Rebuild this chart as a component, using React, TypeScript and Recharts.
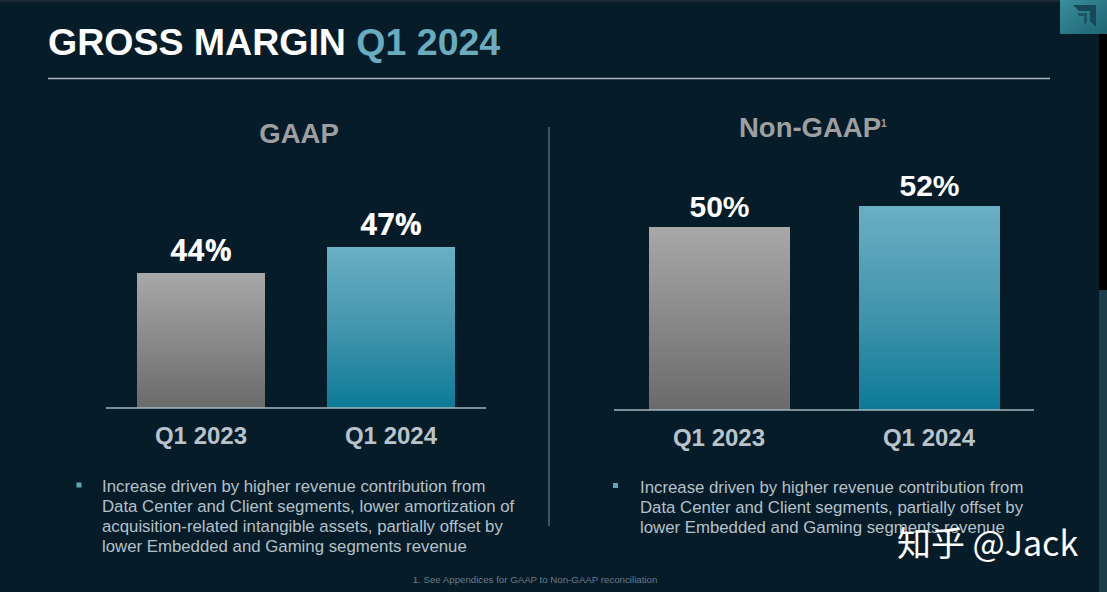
import React from 'react';
import { BarChart, Bar, XAxis, YAxis, Cell, LabelList } from 'recharts';

const categories = ['Q1 2023', 'Q1 2024'];
const gaapValues = [44, 47];
const nonGaapValues = [50, 52];
const titleMain = 'GROSS MARGIN';
const titleAccent = 'Q1 2024';
const gaapHeading = 'GAAP';
const nonGaapHeading = 'Non-GAAP';
const gaapBullet = [
  'Increase driven by higher revenue contribution from',
  'Data Center and Client segments, lower amortization of',
  'acquisition-related intangible assets, partially offset by',
  'lower Embedded and Gaming segments revenue',
];
const nonGaapBullet = [
  'Increase driven by higher revenue contribution from',
  'Data Center and Client segments, partially offset by',
  'lower Embedded and Gaming segments revenue',
];
const footnote = '1. See Appendices for GAAP to Non-GAAP reconciliation';
const watermark = '知乎 @Jack';

const gaapData = categories.map((q, i) => ({ q, v: gaapValues[i] }));
const nonGaapData = categories.map((q, i) => ({ q, v: nonGaapValues[i] }));

const SANS = '"Liberation Sans", Arial, sans-serif';

type ChartProps = {
  data: { q: string; v: number }[];
  id: string;
  left: number;
  top: number;
  width: number;
  height: number;
  domain: [number, number];
  barSize: number;
  labelFont: string;
  labelOffset: number;
};

function MarginChart({ data, id, left, top, width, height, domain, barSize, labelFont, labelOffset }: ChartProps) {
  return (
    <div style={{ position: 'absolute', left, top }}>
      <BarChart width={width} height={height} data={data} margin={{ top: 20, right: 20, left: 20, bottom: 12 }}>
        <defs>
          <linearGradient id={`${id}-gray`} x1="0" y1="0" x2="0" y2="1">
            <stop offset="0%" stopColor="#a8a8a8" />
            <stop offset="100%" stopColor="#6a6a6a" />
          </linearGradient>
          <linearGradient id={`${id}-blue`} x1="0" y1="0" x2="0" y2="1">
            <stop offset="0%" stopColor="#6aafc4" />
            <stop offset="55%" stopColor="#3f93ab" />
            <stop offset="100%" stopColor="#0c7a97" />
          </linearGradient>
        </defs>
        <XAxis
          dataKey="q"
          height={40}
          interval={0}
          tickSize={0}
          tickMargin={19}
          tickLine={false}
          axisLine={{ stroke: '#a6b7c0', strokeWidth: 1.5 }}
          tick={{ fill: '#b8c3ca', fontSize: 24, fontWeight: 700, fontFamily: SANS }}
        />
        <YAxis hide type="number" domain={domain} allowDataOverflow />
        <Bar dataKey="v" barSize={barSize} isAnimationActive={false}>
          {data.map((d, i) => (
            <Cell key={d.q} fill={`url(#${id}-${i === 0 ? 'gray' : 'blue'})`} />
          ))}
          <LabelList
            dataKey="v"
            position="top"
            offset={labelOffset}
            formatter={(v: any) => `${v}%`}
            fill="#ffffff"
            fontSize={30}
            fontWeight={700}
            fontFamily={labelFont}
          />
        </Bar>
      </BarChart>
    </div>
  );
}

export default function App() {
  return (
    <div
      style={{
        position: 'absolute',
        left: 0,
        top: 0,
        width: 1107,
        height: 592,
        background: '#061c29',
        overflow: 'hidden',
        fontFamily: SANS,
      }}
    >
      <svg width={1107} height={592} style={{ position: 'absolute', left: 0, top: 0 }}>
        <defs>
          <linearGradient id="logoGrad" x1="0" y1="0" x2="1" y2="1">
            <stop offset="0%" stopColor="#3b8e9c" />
            <stop offset="100%" stopColor="#1d6474" />
          </linearGradient>
        </defs>
        <rect x={0} y={0} width={1107} height={2} fill="#1a2b35" />
        {/* title */}
        <text x={48} y={55} fontFamily={SANS} fontWeight={700} fontSize={37.5} fill="#ffffff">
          {titleMain}{' '}
          <tspan fill="#6aacbf">{titleAccent}</tspan>
        </text>
        <line x1={48} y1={78.5} x2={1050} y2={78.5} stroke="#a9b6bd" strokeWidth={1.5} />
        {/* headings */}
        <text x={299} y={143} textAnchor="middle" fontFamily={SANS} fontWeight={700} fontSize={27.5} fill="#9d9fa1">
          {gaapHeading}
        </text>
        <text x={739} y={137} fontFamily={SANS} fontWeight={700} fontSize={27.5} fill="#9d9fa1">
          {nonGaapHeading}
          <tspan fontSize={10} dy={-10}>1</tspan>
        </text>
        {/* divider */}
        <line x1={549} y1={127} x2={549} y2={526} stroke="#3a5565" strokeWidth={2} />
        {/* bullets */}
        <rect x={76.5} y={482.5} width={5} height={5} fill="#5fa7b5" />
        {gaapBullet.map((t, i) => (
          <text key={t} x={102} y={492 + i * 20} fontFamily={SANS} fontSize={16.8} fill="#b5c1c8">
            {t}
          </text>
        ))}
        <rect x={613} y={483} width={5} height={5} fill="#5fa7b5" />
        {nonGaapBullet.map((t, i) => (
          <text key={t} x={640} y={492.5 + i * 20} fontFamily={SANS} fontSize={16.8} fill="#b5c1c8">
            {t}
          </text>
        ))}
        {/* footnote */}
        <text x={535} y={583} textAnchor="middle" fontFamily={SANS} fontSize={9.7} fill="#6b7b86">
          {footnote}
        </text>
        {/* watermark */}
        <text x={897} y={556} fontFamily='"Noto Sans CJK SC", sans-serif' fontSize={34} fill="#ffffff">
          {watermark}
        </text>
        {/* logo & right edge */}
        <rect x={1060} y={0} width={47} height={34} fill="url(#logoGrad)" />
        <path d="M1073 5 L1096 5 L1096 27 L1090 21 L1090 11 L1079 11 Z" fill="#17485a" />
        <path d="M1078 13 L1087 13 L1087 22 L1084 25 L1084 16 L1078 16 Z" fill="#17485a" opacity={0.7} />
        <rect x={1099} y={34} width={8} height={256} fill="#000000" />
        <rect x={1099} y={290} width={8} height={302} fill="#1c3d4a" />
      </svg>
      <MarginChart
        data={gaapData}
        id="gaap"
        left={86}
        top={130}
        width={420}
        height={330}
        domain={[28.42, 58.19]}
        barSize={128}
        labelFont='"Open Sans", "Liberation Sans", sans-serif'
        labelOffset={12}
      />
      <MarginChart
        data={nonGaapData}
        id="ngaap"
        left={594}
        top={130}
        width={460}
        height={332}
        domain={[32.57, 57.33]}
        barSize={141}
        labelFont={SANS}
        labelOffset={10}
      />
    </div>
  );
}
